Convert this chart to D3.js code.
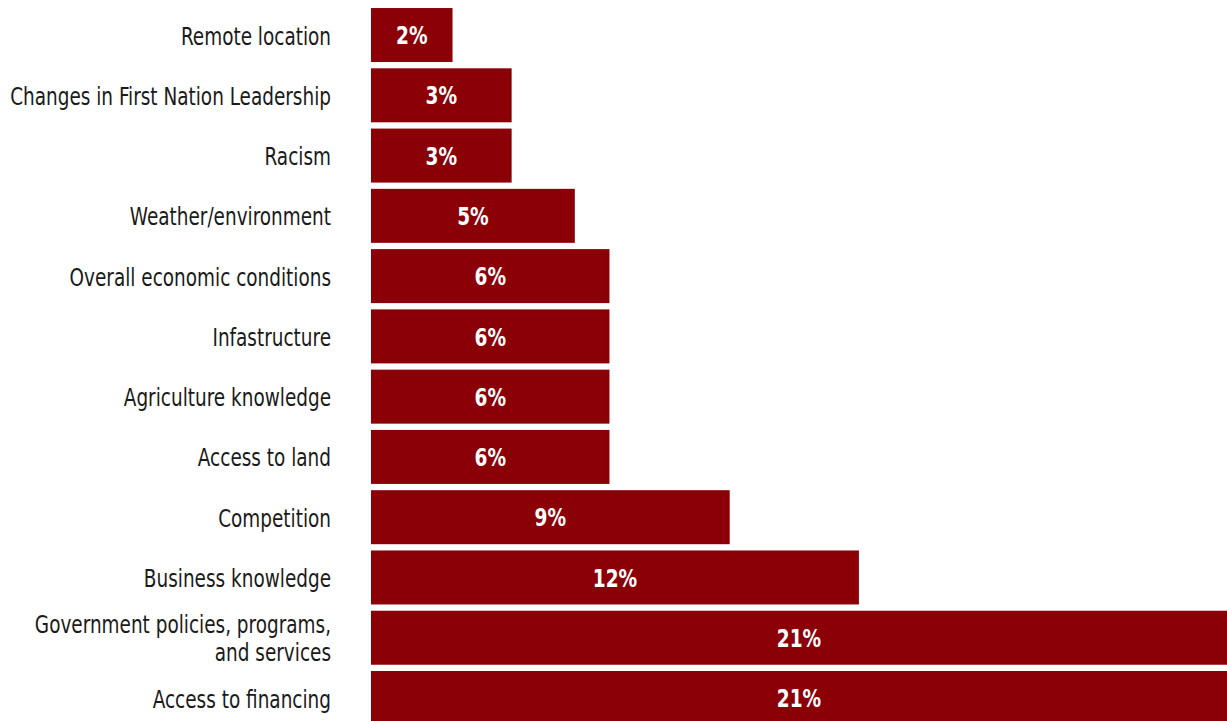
<!DOCTYPE html>
<html>
<head>
<meta charset="utf-8">
<script src="https://cdn.jsdelivr.net/npm/d3@7"></script>
<style>
  body { margin: 0; background: #fff; }
  svg { display: block; }
</style>
</head>
<body>
<svg width="1227" height="721"></svg>
<script>
const categories = [
    "Remote location",
    "Changes in First Nation Leadership",
    "Racism",
    "Weather/environment",
    "Overall economic conditions",
    "Infastructure",
    "Agriculture knowledge",
    "Access to land",
    "Competition",
    "Business knowledge",
    "Government policies, programs, and services",
    "Access to financing"
];
const values = [2.0, 3.45, 3.45, 5.0, 5.85, 5.85, 5.85, 5.85, 8.8, 11.97, 21.0, 21.0];

const data = categories.map((c, i) => ({ name: c, value: values[i] }));

const svg = d3.select("svg");
const barColor = "#8b0007";
const fontFam = "'DejaVu Sans Condensed', 'DejaVu Sans', sans-serif";
const sx = 0.82;      // squeeze to mimic a condensed face
const maxW = 330;

const x = d3.scaleLinear()
    .domain([0, 21])
    .range([371, 1227]);

const y = d3.scaleBand()
    .domain(categories)
    .range([4.9, 4.9 + 12 * 60.27])
    .paddingInner(0.104)
    .paddingOuter(0.052);

// bars
svg.selectAll("rect.bar")
    .data(data)
    .enter()
    .append("rect")
    .attr("class", "bar")
    .attr("x", x(0))
    .attr("y", d => y(d.name))
    .attr("width", d => x(d.value) - x(0))
    .attr("height", y.bandwidth())
    .attr("fill", barColor);

// value labels
svg.selectAll("text.val")
    .data(data)
    .enter()
    .append("text")
    .attr("class", "val")
    .attr("transform", d => `translate(${(x(0) + x(d.value)) / 2},${y(d.name) + y.bandwidth() / 2}) scale(0.86,1)`)
    .attr("dy", "0.38em")
    .attr("text-anchor", "middle")
    .attr("fill", "#fff")
    .style("font-family", fontFam)
    .style("font-weight", "bold")
    .style("font-size", "24px")
    .text(d => d3.format(".0f")(d.value) + "%");

// category axis
const axis = svg.append("g")
    .attr("transform", `translate(${x(0)},0)`)
    .call(d3.axisLeft(y).tickSize(0).tickPadding(40));

axis.select(".domain").remove();
axis.selectAll("text")
    .attr("fill", "#1a1a1a")
    .attr("x", -40 / sx)
    .attr("dy", "0.38em")
    .attr("transform", `scale(${sx},1)`)
    .style("font-family", fontFam)
    .style("font-size", "25px")
    .each(function(d) {
        const t = d3.select(this);
        if (this.getComputedTextLength() * sx <= maxW) return;
        // wrap long label into lines
        const words = d.split(" ");
        const lines = [];
        let line = [];
        t.text(null);
        const probe = t.append("tspan");
        words.forEach(w => {
            line.push(w);
            probe.text(line.join(" "));
            if (probe.node().getComputedTextLength() * sx > maxW && line.length > 1) {
                line.pop();
                lines.push(line.join(" "));
                line = [w];
            }
        });
        lines.push(line.join(" "));
        probe.remove();
        const lh = 28;
        const x0 = t.attr("x");
        t.attr("dy", null);
        lines.forEach((l, i) => {
            t.append("tspan")
                .attr("x", x0)
                .attr("dy", i === 0 ? (0.38 * 25 - (lines.length - 1) * lh / 2) + "px" : lh + "px")
                .text(l);
        });
    });
</script>
</body>
</html>
